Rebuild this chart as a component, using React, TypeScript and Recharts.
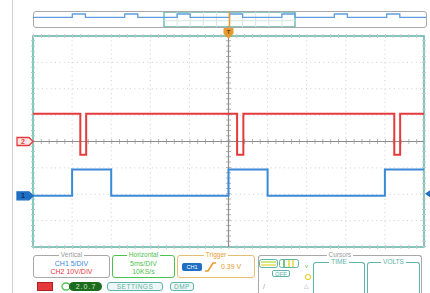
import { LineChart, Line, XAxis, YAxis, CartesianGrid, ReferenceLine, ReferenceArea, ReferenceDot } from "recharts";

const FONT = "'Liberation Sans', Arial, sans-serif";
const TEAL = "#5db4a8";
const RED = "#e53a3c";
const BLUE = "#3b8ad8";
const ORANGE = "#e69b2e";
const GREEN = "#4ec24e";
const GRAY = "#a8a8a8";

// screen: 10 div x 5 ms/div, trigger in the middle
const timeTicks = [-25, -20, -15, -10, -5, 0, 5, 10, 15, 20, 25];
// CH2 at 10 V/div, 8 divisions
const ch2Ticks = [-40, -30, -20, -10, 0, 10, 20, 30, 40];

// CH1 (blue), volts
const ch1Time = [-25, -20, -20, -15, -15, 0, 0, 5, 5, 20, 20, 25];
const ch1Volts = [0, 0, 5, 5, 0, 0, 5, 5, 0, 0, 5, 5];

// CH2 (red), volts
const ch2Time = [-25, -18.95, -18.95, -18.2, -18.2, 1.1, 1.1, 1.9, 1.9, 21.2, 21.2, 21.95, 21.95, 25];
const ch2Volts = [10.5, 10.5, -5, -5, 10.5, 10.5, -5, -5, 10.5, 10.5, -5, -5, 10.5, 10.5];

// whole record shown in the overview strip (CH1)
const recordTime = [-75, -60, -60, -55, -55, -40, -40, -35, -35, -20, -20, -15, -15, 0, 0, 5, 5, 20, 20, 25, 25, 40, 40, 45, 45, 60, 60, 65, 65, 75];
const recordVolts = [0, 0, 5, 5, 0, 0, 5, 5, 0, 0, 5, 5, 0, 0, 5, 5, 0, 0, 5, 5, 0, 0, 5, 5, 0, 0, 5, 5, 0, 0];
const windowTicks = [-20, -15, -10, -5, 0, 5, 10, 15, 20];

const trigLevel = 0.39;

const zip = (t: number[], v: number[]) => t.map((x, i) => ({ t: x, v: v[i] }));

function ChannelMarker({ cx, cy, n, color, filled }: any) {
  const pts = `${cx - 16},${cy - 4} ${cx - 4},${cy - 4} ${cx},${cy} ${cx - 4},${cy + 4} ${cx - 16},${cy + 4}`;
  return (
    <g>
      <polygon points={pts} fill={filled ? color : "#fde8e8"} stroke={color} strokeWidth={1.3} />
      <text x={cx - 10} y={cy + 2.5} fontSize={7} fontFamily={FONT} fontWeight="bold" textAnchor="middle" fill={filled ? "#0b2f5c" : color}>{n}</text>
    </g>
  );
}

function TrigMarker({ viewBox }: any) {
  const x = viewBox.x;
  const y = viewBox.y;
  return (
    <g>
      <line x1={x} y1={y - 10} x2={x} y2={y - 8} stroke={ORANGE} strokeWidth={1.5} />
      <rect x={x - 5} y={y - 9} width={10} height={8} rx={2} fill={ORANGE} />
      <text x={x} y={y - 2.5} fontSize={6} fontFamily={FONT} fontWeight="bold" textAnchor="middle" fill="#7a3c00">T</text>
      <polygon points={`${x - 4},${y - 1} ${x + 4},${y - 1} ${x},${y + 2.5}`} fill={ORANGE} />
    </g>
  );
}

function GroupBox({ left, top, width, height, color, title, titleColor, children, openBottom }: any) {
  return (
    <div style={{ position: "absolute", left, top, width, height }}>
      <div style={{
        position: "absolute", inset: 0, border: `1px solid ${color}`, borderBottom: openBottom ? "none" : `1px solid ${color}`,
        borderRadius: 3,
      }} />
      <div style={{ position: "absolute", left: 0, right: 0, top: -4, height: 7, textAlign: "center", lineHeight: "7px", fontSize: 6.5 }}>
        <span style={{ background: "#fff", padding: "0 2px", color: titleColor }}>{title}</span>
      </div>
      {children}
    </div>
  );
}

const line = (color: string, top: number, extra: any = {}) => ({
  position: "absolute" as const, left: 0, right: 0, top, height: 8, textAlign: "center" as const, color, fontSize: 7, lineHeight: "8px", ...extra,
});

function Badge({ left, top, width, children, color = TEAL }: any) {
  return (
    <div style={{
      position: "absolute", left, top, width, height: 9, border: `1px solid ${color}`, borderRadius: 3, boxSizing: "border-box",
      background: "#eef7f6", color, fontSize: 6.5, lineHeight: "7px", textAlign: "center", letterSpacing: 0.5,
    }}>{children}</div>
  );
}

export default function App() {
  return (
    <div style={{ position: "absolute", left: 0, top: 0, width: 430, height: 293, background: "#fff", fontFamily: FONT, overflow: "hidden" }}>
      {/* bezel edge */}
      <div style={{ position: "absolute", left: 12, top: 0, width: 1, height: 293, background: "#d0d0d0" }} />

      <div style={{ position: "absolute", left: 0, top: 0 }}>
        <LineChart width={430} height={293} margin={{ top: 36, right: 6, bottom: 46, left: 33 }}>
          <XAxis dataKey="t" type="number" domain={[-25, 25]} ticks={timeTicks} hide allowDataOverflow />
          <YAxis yAxisId="ch2" type="number" domain={[-40, 40]} ticks={ch2Ticks} hide />
          <YAxis yAxisId="ch1" type="number" domain={[-9.7, 30.3]} hide />
          <CartesianGrid yAxisId="ch2" stroke="#cdcdcd" strokeDasharray="1 3.4" />
          {/* minor ticks on the border and centre lines */}
          <ReferenceLine yAxisId="ch2" y={40} stroke="#c6c6c6" strokeWidth={4} strokeDasharray="1 6.82" />
          <ReferenceLine yAxisId="ch2" y={-40} stroke="#c6c6c6" strokeWidth={4} strokeDasharray="1 6.82" />
          <ReferenceLine yAxisId="ch2" x={-25} stroke="#9fd0c8" strokeWidth={4} strokeDasharray="1 4.275" />
          <ReferenceLine yAxisId="ch2" x={25} stroke="#c6c6c6" strokeWidth={4} strokeDasharray="1 4.275" />
          <ReferenceLine yAxisId="ch2" y={0} stroke="#b5b5b5" strokeWidth={5} strokeDasharray="1 6.82" />
          <ReferenceLine yAxisId="ch2" x={0} stroke="#b5b5b5" strokeWidth={5} strokeDasharray="1 4.275" />
          <ReferenceLine yAxisId="ch2" y={0} stroke="#8e8e8e" strokeWidth={1} />
          <ReferenceLine yAxisId="ch2" x={0} stroke="#8e8e8e" strokeWidth={1.2} label={(p: any) => <TrigMarker {...p} />} />
          <ReferenceArea yAxisId="ch2" x1={-25} x2={25} y1={-40} y2={40} fill="none" stroke={TEAL} strokeWidth={1.5} ifOverflow="visible" />
          <Line yAxisId="ch2" data={zip(ch2Time, ch2Volts)} dataKey="v" type="linear" stroke={RED} strokeWidth={2} dot={false} isAnimationActive={false} />
          <Line yAxisId="ch1" data={zip(ch1Time, ch1Volts)} dataKey="v" type="linear" stroke={BLUE} strokeWidth={2} dot={false} isAnimationActive={false} />
          <ReferenceDot yAxisId="ch2" x={-25} y={0} ifOverflow="visible" shape={(p: any) => <ChannelMarker {...p} n="2" color={RED} />} />
          <ReferenceDot yAxisId="ch1" x={-25} y={0} ifOverflow="visible" shape={(p: any) => <ChannelMarker {...p} n="1" color="#1f6fc4" filled />} />
          <ReferenceDot yAxisId="ch1" x={25} y={trigLevel} ifOverflow="visible"
            shape={(p: any) => <polygon points={`${p.cx + 1},${p.cy} ${p.cx + 6},${p.cy - 3.5} ${p.cx + 6},${p.cy + 3.5}`} fill="#1f6fc4" />} />
        </LineChart>
      </div>

      {/* record overview strip */}
      <div style={{ position: "absolute", left: 33, top: 11, width: 392, height: 15, border: `1px solid ${GRAY}`, borderRadius: 3 }} />
      <div style={{ position: "absolute", left: 33, top: 12 }}>
        <LineChart width={393} height={15} margin={{ top: 0, right: 0, bottom: 0, left: 0 }}>
          <XAxis dataKey="t" type="number" domain={[-75, 75]} hide />
          <YAxis type="number" domain={[-14.7, 8]} hide />
          {windowTicks.map((t) => (
            <ReferenceLine key={t} x={t} stroke="#d6e6e3" strokeWidth={1} />
          ))}
          <ReferenceLine segment={[{ x: -25, y: -5.2 }, { x: 25, y: -5.2 }]} stroke="#d6e6e3" />
          <Line data={zip(recordTime, recordVolts)} dataKey="v" type="linear" stroke="#5e9ee0" strokeWidth={1.3} dot={false} isAnimationActive={false} />
          <ReferenceArea x1={-25} x2={25} fill="none" stroke={TEAL} strokeWidth={1.3} ifOverflow="visible" />
          <ReferenceLine x={0} stroke={ORANGE} strokeWidth={1.6} />
        </LineChart>
      </div>

      {/* settings panel */}
      <GroupBox left={33} top={255} width={77} height={23} color={GRAY} title="Vertical" titleColor="#9a9a9a">
        <div style={line(BLUE, 5)}>CH1 5/DIV</div>
        <div style={line(RED, 13)}>CH2 10V/DIV</div>
      </GroupBox>
      <GroupBox left={112} top={255} width={63} height={23} color={GREEN} title="Horizontal" titleColor={GREEN}>
        <div style={line(GREEN, 5)}>5ms/DIV</div>
        <div style={line(GREEN, 13)}>10KS/s</div>
      </GroupBox>
      <GroupBox left={177} top={255} width={78} height={23} color="#e6bd72" title="Trigger" titleColor={ORANGE}>
        <div style={{ position: "absolute", left: 5, top: 8, width: 20, height: 8, borderRadius: 2, background: "#1f6fc4", color: "#fff", fontSize: 5.5, lineHeight: "8px", textAlign: "center" }}>CH1</div>
        <svg style={{ position: "absolute", left: 28, top: 7 }} width={11} height={10}>
          <polyline points="0,9 3,9 8,1 11,1" fill="none" stroke={ORANGE} strokeWidth={1.6} />
        </svg>
        <div style={{ position: "absolute", left: 44, top: 8, color: ORANGE, fontSize: 7, lineHeight: "8px" }}>0.39 V</div>
      </GroupBox>
      <GroupBox left={258} top={255} width={164} height={40} color={GRAY} title="Cursors" titleColor="#9a9a9a" openBottom>
        <svg style={{ position: "absolute", left: 1, top: 4 }} width={42} height={10}>
          <rect x={0.5} y={0.5} width={18} height={8} rx={2} fill="#fff" stroke={TEAL} />
          <line x1={2} y1={3} x2={17} y2={3} stroke="#b8e04a" strokeWidth={1.4} />
          <line x1={2} y1={6} x2={17} y2={6} stroke="#e8d84a" strokeWidth={1.4} />
          <rect x={20.5} y={0.5} width={19} height={8} rx={2} fill="#fff" stroke={TEAL} />
          <line x1={25} y1={1} x2={25} y2={8} stroke={GREEN} strokeWidth={1.6} />
          <line x1={30} y1={1} x2={30} y2={8} stroke="#e8d84a" strokeWidth={1.6} />
          <line x1={34} y1={1} x2={34} y2={8} stroke="#e8d84a" strokeWidth={1.6} />
        </svg>
        <div style={{ position: "absolute", left: 14, top: 15, width: 18, height: 7, border: `1px solid ${TEAL}`, borderRadius: 2, color: TEAL, fontSize: 6, lineHeight: "6px", textAlign: "center", boxSizing: "border-box" }}>OFF</div>
        <div style={{ position: "absolute", left: 47, top: 8, color: GREEN, fontSize: 6 }}>v</div>
        <svg style={{ position: "absolute", left: 46, top: 18 }} width={8} height={8}>
          <circle cx={4} cy={4} r={2.5} fill="none" stroke="#e8d030" strokeWidth={1.2} />
        </svg>
        <div style={{ position: "absolute", left: 46, top: 27, color: "#9a9a9a", fontSize: 6 }}>&#9651;</div>
        <div style={{ position: "absolute", left: 5, top: 28, color: "#9a9a9a", fontSize: 7 }}>/</div>
        <GroupBox left={55} top={7} width={52} height={40} color={TEAL} title="TIME" titleColor={TEAL} openBottom />
        <GroupBox left={109} top={7} width={53} height={40} color={TEAL} title="VOLTS" titleColor={TEAL} openBottom />
      </GroupBox>

      {/* bottom buttons */}
      <div style={{ position: "absolute", left: 37, top: 282, width: 16, height: 9, background: RED, border: "1px solid #b02020", boxSizing: "border-box" }} />
      <svg style={{ position: "absolute", left: 61, top: 281 }} width={42} height={11}>
        <ellipse cx={5} cy={5.5} rx={4} ry={3.5} fill="none" stroke={GREEN} strokeWidth={1.3} />
        <rect x={8} y={1} width={33} height={9} rx={4.5} fill="#1e6b1e" />
        <text x={25} y={8.3} fontSize={7} fontFamily={FONT} textAnchor="middle" fill="#cfeecf" letterSpacing={1}>2.0.7</text>
      </svg>
      <Badge left={107} top={282} width={56}>SETTINGS</Badge>
      <Badge left={170} top={282} width={24}>DMP</Badge>
    </div>
  );
}
